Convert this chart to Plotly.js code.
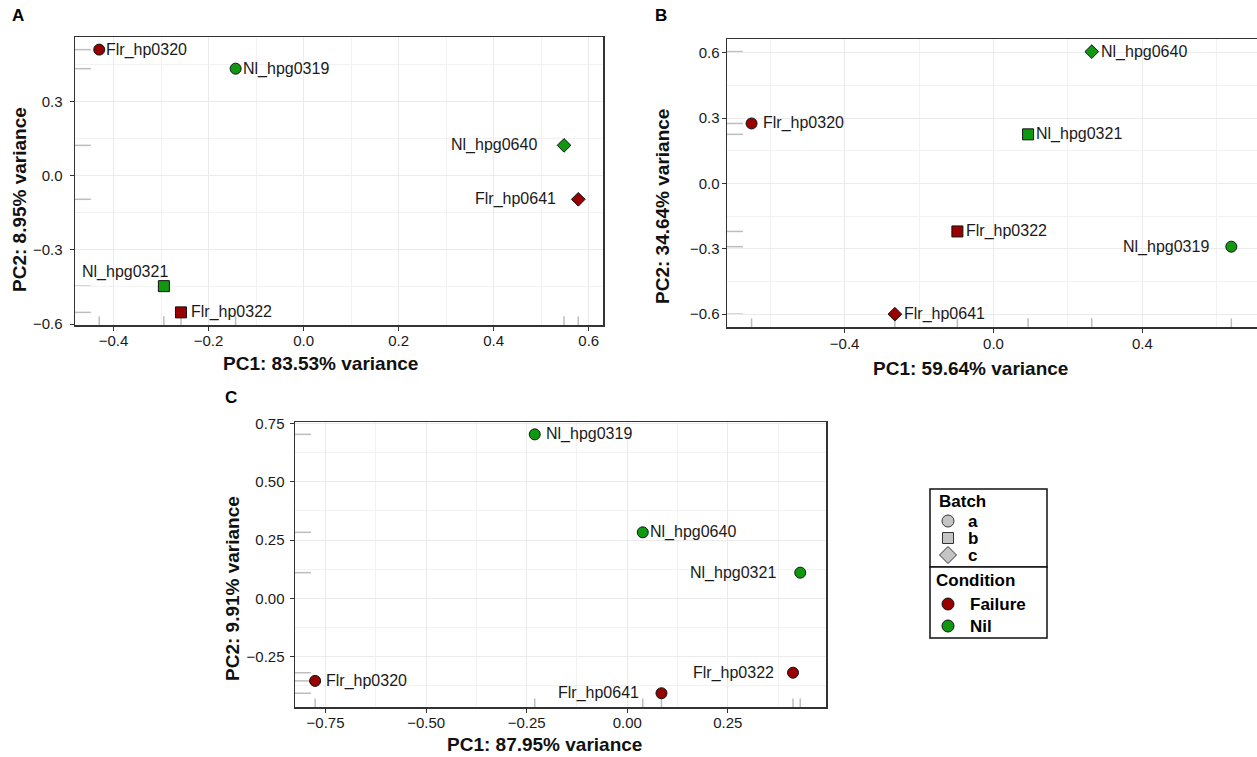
<!DOCTYPE html>
<html><head><meta charset="utf-8">
<script src="https://cdn.plot.ly/plotly-3.0.1.min.js"></script>
<style>html,body{margin:0;padding:0;background:#fff}#chart{width:1257px;height:757px}</style>
</head><body><div id="chart"></div>
<script>
// ---------- data ----------
const samples   = ['Flr_hp0320', 'Nl_hpg0319', 'Nl_hpg0640', 'Flr_hp0641', 'Nl_hpg0321', 'Flr_hp0322'];
const condition = ['Failure', 'Nil', 'Nil', 'Failure', 'Nil', 'Failure'];
const batch     = ['a', 'a', 'c', 'c', 'b', 'b'];

const pcaA_pc1 = [-0.430, -0.143, 0.548, 0.578, -0.294, -0.258];
const pcaA_pc2 = [0.509, 0.432, 0.122, -0.096, -0.447, -0.553];
const pcaB_pc1 = [-0.650, 0.639, 0.264, -0.265, 0.093, -0.097];
const pcaB_pc2 = [0.276, -0.290, 0.606, -0.600, 0.226, -0.220];
const pcaC_pc1 = [-0.776, -0.230, 0.0385, 0.085, 0.430, 0.412];
const pcaC_pc2 = [-0.354, 0.703, 0.283, -0.407, 0.110, -0.319];

const titlesA = ['PC1: 83.53% variance', 'PC2: 8.95% variance'];
const titlesB = ['PC1: 59.64% variance', 'PC2: 34.64% variance'];
const titlesC = ['PC1: 87.95% variance', 'PC2: 9.91% variance'];

const batchLevels = ['a', 'b', 'c'];
const conditionLevels = ['Failure', 'Nil'];

// ---------- style config ----------
const FONT = 'Liberation Sans, Arial, Helvetica, sans-serif';
const condColor = {Failure: '#990000', Nil: '#109910'};
const batchSymbol = {a: 'circle', b: 'square', c: 'diamond'};
const symbolSize = {circle: 11, square: 11, diamond: 10.5};
// label placement (ggrepel-like): side, gap in px, lift in px
const labA = [['r',7,0],['r',7,0],['l',27,0],['l',22,0],['l',-4,14],['r',10,0]];
const labB = [['r',11,0],['l',22,0],['r',9,0],['r',9,0],['r',8,0],['r',9,0]];
const labC = [['r',11,0],['r',11,0],['r',7,0],['l',22,0],['l',24,0],['l',19,0]];
// axis-title centres in page pixels: [x-title x, x-title y, y-title x, y-title y]
const titlePosA = [320, 364, 19, 200];
const titlePosB = [970, 368, 662, 207];
const titlePosC = [544, 744, 232, 589];

const W = 1257, H = 757;
const px = x => x / W, py = y => 1 - y / H;
const dx = (a, b) => [a / W, b / W];
const dy = (top, bot) => [1 - bot / H, 1 - top / H];

const traces = [];
const annotations = [];
const shapes = [];
const titleFont = {family: FONT, size: 19, color: '#111', weight: 'bold'};

function panel(xs, ys, ax, useShape, lab, titles, tpos) {
  const xa = 'x' + (ax === 1 ? '' : ax), ya = 'y' + (ax === 1 ? '' : ax);
  const syms = samples.map((s, i) => useShape ? batchSymbol[batch[i]] : 'circle');
  // rugs
  samples.forEach((s, i) => {
    shapes.push({type: 'line', xref: xa + ' domain', yref: ya, x0: 0, x1: 0.03, y0: ys[i], y1: ys[i],
      line: {color: '#bdbdbd', width: 1.5}, layer: 'below'});
    shapes.push({type: 'line', xref: xa, yref: ya + ' domain', x0: xs[i], x1: xs[i], y0: 0, y1: 0.03,
      line: {color: '#bdbdbd', width: 1.5}, layer: 'below'});
  });
  traces.push({
    type: 'scatter', mode: 'markers', x: xs, y: ys, xaxis: xa, yaxis: ya,
    text: samples, showlegend: false, hoverinfo: 'text',
    marker: {
      color: condition.map(c => condColor[c]), opacity: 1,
      symbol: syms, size: syms.map(s => symbolSize[s]),
      line: {color: '#111', width: 1}
    }
  });
  samples.forEach((s, i) => {
    const [side, gap, lift] = lab[i];
    annotations.push({
      x: xs[i], y: ys[i], xref: xa, yref: ya, text: s, showarrow: false,
      xanchor: side === 'r' ? 'left' : 'right', yanchor: 'middle',
      xshift: side === 'r' ? gap - 2 : -(gap - 2), yshift: lift,
      font: {family: FONT, size: 16, color: '#1a1a1a'}
    });
  });
  // axis titles
  annotations.push({text: titles[0], x: px(tpos[0]), y: py(tpos[1]), xref: 'paper', yref: 'paper',
    showarrow: false, xanchor: 'center', yanchor: 'middle', font: titleFont});
  annotations.push({text: titles[1], x: px(tpos[2]), y: py(tpos[3]), xref: 'paper', yref: 'paper',
    showarrow: false, xanchor: 'center', yanchor: 'middle', textangle: -90, font: titleFont});
}
panel(pcaA_pc1, pcaA_pc2, 1, true, labA, titlesA, titlePosA);
panel(pcaB_pc1, pcaB_pc2, 2, true, labB, titlesB, titlePosB);
panel(pcaC_pc1, pcaC_pc2, 3, false, labC, titlesC, titlePosC);

// ---------- legend (drawn as a ggplot-style key box) ----------
const LEGX = 930, LEGR = 1047, SYMX = 948, TXTX = 967;
const legFont = {family: FONT, size: 17, color: '#000', weight: 'bold'};
shapes.push({type: 'rect', xref: 'paper', yref: 'paper', x0: px(LEGX), x1: px(LEGR), y0: py(489), y1: py(567),
  line: {color: '#111', width: 1.5}, fillcolor: '#fff'});
shapes.push({type: 'rect', xref: 'paper', yref: 'paper', x0: px(LEGX), x1: px(LEGR), y0: py(567), y1: py(638),
  line: {color: '#111', width: 1.5}, fillcolor: '#fff'});
const legText = (t, x, y) => ({text: t, x: px(x), y: py(y), xref: 'paper', yref: 'paper', showarrow: false,
  xanchor: 'left', yanchor: 'middle', font: legFont, borderpad: 0});
annotations.push(legText('Batch', 938, 501));
const batchRowY = [521, 538, 555];
const keyFill = '#c4c4c4', keyLine = {color: '#333', width: 1};
batchLevels.forEach((b, k) => {
  const y = batchRowY[k], sym = batchSymbol[b];
  annotations.push(legText(b, TXTX, y));
  if (sym === 'circle') {
    shapes.push({type: 'circle', xref: 'paper', yref: 'paper', x0: px(SYMX - 6), x1: px(SYMX + 6), y0: py(y + 6), y1: py(y - 6), fillcolor: keyFill, line: keyLine});
  } else if (sym === 'square') {
    shapes.push({type: 'rect', xref: 'paper', yref: 'paper', x0: px(SYMX - 5.5), x1: px(SYMX + 5.5), y0: py(y + 5.5), y1: py(y - 5.5), fillcolor: keyFill, line: keyLine});
  } else {
    const r = 8.5;
    shapes.push({type: 'path', xref: 'paper', yref: 'paper', fillcolor: keyFill, line: keyLine,
      path: `M ${px(SYMX)} ${py(y - r)} L ${px(SYMX + r)} ${py(y)} L ${px(SYMX)} ${py(y + r)} L ${px(SYMX - r)} ${py(y)} Z`});
  }
});
annotations.push(legText('Condition', 935, 580));
const condRowY = [604, 626];
conditionLevels.forEach((c, k) => {
  const y = condRowY[k];
  annotations.push(legText(c, TXTX + 2, y));
  shapes.push({type: 'circle', xref: 'paper', yref: 'paper', x0: px(SYMX - 6), x1: px(SYMX + 6), y0: py(y + 6), y1: py(y - 6),
    fillcolor: condColor[c], line: {color: '#111', width: 1}});
});

function axis(extra, labelStandoff) {
  const base = {
    showline: true, linecolor: '#333', linewidth: 1.5, mirror: true,
    ticks: 'outside', ticklen: 4, tickcolor: '#333', tickwidth: 1,
    ticklabelstandoff: labelStandoff,
    showgrid: true, gridcolor: '#ebebeb', gridwidth: 1, zeroline: false,
    tickfont: {family: FONT, size: 15, color: '#1a1a1a'},
    title: {text: ''},
    fixedrange: true
  };
  return Object.assign(base, extra);
}
const minor = d => ({showgrid: true, gridcolor: '#f2f2f2', gridwidth: 1, dtick: d, tick0: 0});

const panelLetter = (t, x, y) => ({text: t, x: px(x), y: py(y), xref: 'paper', yref: 'paper',
  showarrow: false, xanchor: 'center', yanchor: 'middle', font: {family: FONT, size: 17, weight: 'bold', color: '#000'}});
annotations.push(panelLetter('A', 18, 15), panelLetter('B', 661, 15), panelLetter('C', 231, 398));

const layout = {
  width: W, height: H, margin: {l: 0, r: 0, t: 0, b: 0},
  paper_bgcolor: '#fff', plot_bgcolor: '#fff',
  font: {family: FONT},
  showlegend: false,
  xaxis:  axis({domain: dx(75, 603), anchor: 'y', range: [-0.481, 0.630], dtick: 0.2, tick0: 0, tickformat: '.1f', minor: minor(0.1)}, -3),
  yaxis:  axis({domain: dy(37, 325), anchor: 'x', range: [-0.604, 0.560], dtick: 0.3, tick0: 0, tickformat: '.1f', minor: minor(0.15)}, 4),
  xaxis2: axis({domain: dx(727, 1257), anchor: 'y2', range: [-0.716, 0.708], dtick: 0.4, tick0: 0, tickformat: '.1f', minor: minor(0.2)}, -2),
  yaxis2: axis({domain: dy(39, 327), anchor: 'x2', range: [-0.659, 0.664], dtick: 0.3, tick0: 0, tickformat: '.1f', mirror: false, minor: minor(0.15)}, -1),
  xaxis3: axis({domain: dx(295, 826), anchor: 'y3', range: [-0.826, 0.494], dtick: 0.25, tick0: 0, tickformat: '.2f', minor: minor(0.125)}, -3),
  yaxis3: axis({domain: dy(422, 707), anchor: 'x3', range: [-0.466, 0.756], dtick: 0.25, tick0: 0, tickformat: '.2f', minor: minor(0.125)}, 2),
  annotations: annotations,
  shapes: shapes
};

Plotly.newPlot('chart', traces, layout, {staticPlot: true, displayModeBar: false});
</script>
</body></html>
